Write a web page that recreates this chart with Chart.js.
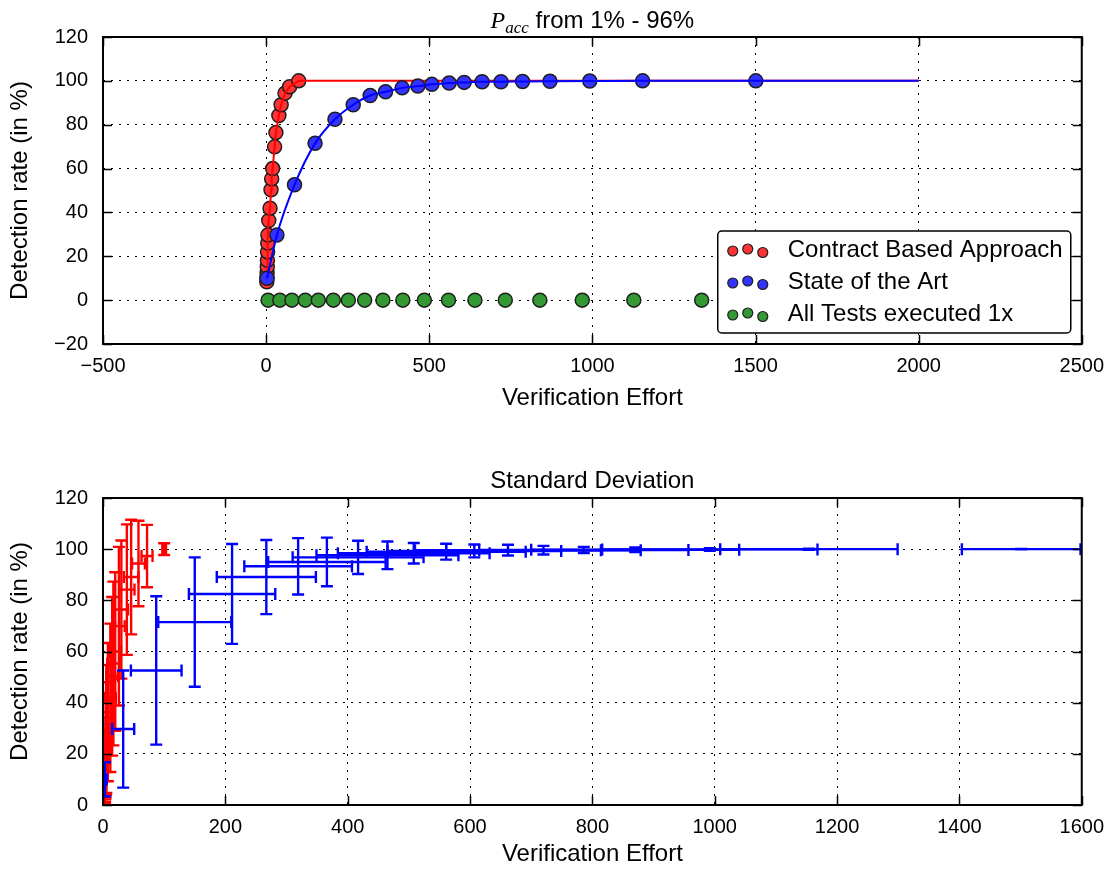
<!DOCTYPE html>
<html>
<head>
<meta charset="utf-8">
<title>Detection rate vs. verification effort</title>
<script src="https://cdn.jsdelivr.net/npm/chart.js@4.4.1/dist/chart.umd.min.js"></script>
<style>
  html, body { margin: 0; padding: 0; background: #fff; }
  #page { position: relative; width: 1114px; height: 869px; overflow: hidden; }
  #page canvas { position: absolute; left: 0; }
  #effortChart { top: 0; }
  #deviationChart { top: 430px; }
</style>
</head>
<body>
<div id="page">
  <canvas id="effortChart" width="1114" height="430"></canvas>
  <canvas id="deviationChart" width="1114" height="439"></canvas>
</div>
<script>
// ---- Contract based approach: mean effort / detection rate and their std. deviations
const contractX    = [2, 2.5, 3, 3.5, 4, 4.5, 5, 5.5, 8, 12, 15, 17, 20, 26, 30, 39, 46, 58, 72, 100];
const contractY    = [8.4, 10.5, 12.5, 15.2, 18.2, 22, 26, 29.7, 36.3, 41.9, 50.3, 55.3, 60, 69.9, 76.4, 84.2, 89.1, 94.4, 97.3, 100];
const contractXErr = [3, 3.5, 4, 4.5, 5, 5.5, 6, 6.5, 8, 9, 9.5, 10, 9.5, 9.5, 11, 12.5, 12, 10.5, 9, 3];
const contractYErr = [8, 10, 12, 14, 16, 19, 22, 25, 27, 29, 31, 32, 31, 31, 27, 25.5, 22.4, 16.7, 12.2, 2.3];

// ---- State of the art
const sotaX    = [3, 33, 87, 150, 211, 267, 319, 366, 417, 465, 508, 561, 607, 662, 720, 786, 870, 992, 1154, 1501];
const sotaY    = [10, 29.7, 52.6, 71.5, 82.5, 89.1, 93.3, 95, 96.8, 97.6, 98.4, 99, 99.3, 99.6, 99.6, 99.7, 99.8, 99.9, 100, 100];
const sotaXErr = [3, 18, 41.4, 59.7, 70.6, 81, 88, 96, 107, 116, 124, 130, 142, 152, 159, 171, 170, 176, 145, 97];
const sotaYErr = [6.7, 22.9, 29, 25.3, 19.5, 14.5, 11, 9.5, 6.5, 5.4, 4, 3.1, 2.5, 2.1, 1.7, 1.2, 0.9, 0.5, 0.2, 0.1];

// ---- All tests executed once (nothing detected)
const allTestsX = [6, 42, 79, 120, 160, 206, 252, 302, 358, 419, 485, 559, 640, 733, 839, 969, 1127, 1335];
const allTestsY = [0, 0, 0, 0, 0, 0, 0, 0, 0, 0, 0, 0, 0, 0, 0, 0, 0, 0];

// ---- Tail of both fitted curves
const fitTailX = 2000;
const fitTailY = 100;

// ---- Axis ticks
const effortTicks    = { min: -500, max: 2500, step: 500 };
const rateTicksTop   = { min: -20, max: 120, step: 20 };
const devEffortTicks = { min: 0, max: 1600, step: 200 };
const devRateTicks   = { min: 0, max: 120, step: 20 };

const SANS = "'Liberation Sans', Arial, Helvetica, sans-serif";
const SERIF = "'Liberation Serif', 'DejaVu Serif', serif";
const RED_FILL = '#ff3333', BLUE_FILL = '#3333ff', GREEN_FILL = '#339933', EDGE = '#1e1e1e';

const toPoints = (xs, ys) => xs.map((x, i) => ({ x, y: ys[i] }));
const minusFmt = v => (v < 0 ? '\u2212' + (-v) : String(v));

function axis(cfg, opts) {
  return {
    type: 'linear', min: cfg.min, max: cfg.max, z: 1,
    ticks: { stepSize: cfg.step, padding: opts.pad, color: '#000', autoSkip: false, maxRotation: 0,
             font: { family: SANS, size: 20 }, callback: minusFmt },
    grid: { color: '#000', lineWidth: 1, drawTicks: false },
    border: { display: false, dash: [2, 6] },
    title: { display: true, text: opts.title, color: '#000', font: { family: SANS, size: 24 }, padding: opts.titlePad },
    afterFit: opts.fit
  };
}

// inward tick marks on all four sides plus the axes frame
const frameTicks = {
  id: 'frameTicks',
  afterDraw(chart) {
    const { ctx, chartArea: a, scales: { x, y } } = chart;
    const len = 9;
    ctx.save();
    ctx.strokeStyle = '#000';
    ctx.lineWidth = 1.5;
    ctx.beginPath();
    x.ticks.forEach(t => {
      const px = Math.round(x.getPixelForValue(t.value)) + 0.5;
      ctx.moveTo(px, a.bottom); ctx.lineTo(px, a.bottom - len);
      ctx.moveTo(px, a.top); ctx.lineTo(px, a.top + len);
    });
    y.ticks.forEach(t => {
      const py = Math.round(y.getPixelForValue(t.value)) + 0.5;
      ctx.moveTo(a.left, py); ctx.lineTo(a.left + len, py);
      ctx.moveTo(a.right, py); ctx.lineTo(a.right - len, py);
    });
    ctx.stroke();
    ctx.lineWidth = 2;
    ctx.strokeRect(a.left, a.top, a.right - a.left, a.bottom - a.top);
    ctx.restore();
  }
};

// chart titles centred over the plotting area; pieces may switch font / baseline
const plotTitle = {
  id: 'plotTitle',
  afterDraw(chart, args, opts) {
    const { ctx, chartArea: a } = chart;
    const parts = opts.parts;
    ctx.save();
    ctx.fillStyle = '#000';
    ctx.textBaseline = 'alphabetic';
    let total = 0;
    parts.forEach(p => { ctx.font = p.font; total += ctx.measureText(p.text).width; });
    let x = (a.left + a.right) / 2 - total / 2;
    parts.forEach(p => {
      ctx.font = p.font;
      ctx.fillText(p.text, x, opts.baseline + (p.dy || 0));
      x += ctx.measureText(p.text).width;
    });
    ctx.restore();
  }
};

// legend box in the lower right with three scatter points per entry
const markerLegend = {
  id: 'markerLegend',
  afterDraw(chart, args, opts) {
    const { ctx, chartArea: a } = chart;
    const w = 353, h = 102;
    const right = a.right - 11, bottom = a.bottom - 11;
    const left = right - w, top = bottom - h;
    ctx.save();
    ctx.beginPath();
    ctx.roundRect(left, top, w, h, 4);
    ctx.fillStyle = '#fff';
    ctx.fill();
    ctx.lineWidth = 1.5;
    ctx.strokeStyle = '#000';
    ctx.stroke();
    const offsets = [1.5, -0.5, 3];
    opts.items.forEach((idx, row) => {
      const ds = chart.data.datasets[idx];
      const cy = top + 18.5 + row * 32;
      offsets.forEach((dy, k) => {
        ctx.beginPath();
        ctx.arc(left + 15 + k * 15, cy + dy, 5, 0, Math.PI * 2);
        ctx.fillStyle = ds.backgroundColor;
        ctx.fill();
        ctx.lineWidth = 1.2;
        ctx.strokeStyle = ds.borderColor;
        ctx.stroke();
      });
      ctx.fillStyle = '#000';
      ctx.font = '24px ' + SANS;
      ctx.textBaseline = 'middle';
      ctx.fillText(ds.label, left + 70, cy + 1);
    });
    ctx.restore();
  }
};

// horizontal and vertical error bars with caps
const errorBars = {
  id: 'errorBars',
  afterDatasetsDraw(chart) {
    const { ctx, chartArea: a, scales: { x, y } } = chart;
    const cap = 6;
    ctx.save();
    ctx.beginPath();
    ctx.rect(a.left, a.top, a.right - a.left, a.bottom - a.top);
    ctx.clip();
    chart.data.datasets.forEach(ds => {
      if (!ds.xErr) return;
      ctx.strokeStyle = ds.errColor;
      ctx.lineWidth = 2.4;
      ds.data.forEach((p, i) => {
        const cx = x.getPixelForValue(p.x), cy = y.getPixelForValue(p.y);
        const xl = x.getPixelForValue(p.x - ds.xErr[i]), xr = x.getPixelForValue(p.x + ds.xErr[i]);
        const yb = y.getPixelForValue(p.y - ds.yErr[i]), yt = y.getPixelForValue(p.y + ds.yErr[i]);
        ctx.beginPath();
        ctx.moveTo(xl, cy); ctx.lineTo(xr, cy);
        ctx.moveTo(xl, cy - cap); ctx.lineTo(xl, cy + cap);
        ctx.moveTo(xr, cy - cap); ctx.lineTo(xr, cy + cap);
        ctx.moveTo(cx, yb); ctx.lineTo(cx, yt);
        ctx.moveTo(cx - cap, yb); ctx.lineTo(cx + cap, yb);
        ctx.moveTo(cx - cap, yt); ctx.lineTo(cx + cap, yt);
        ctx.stroke();
      });
    });
    ctx.restore();
  }
};

const pointStyle = (fill) => ({ backgroundColor: fill, borderColor: EDGE, borderWidth: 1.5, pointRadius: 7, pointHoverRadius: 7 });

// ---------- upper plot: detection rate over verification effort
new Chart(document.getElementById('effortChart'), {
  type: 'scatter',
  data: {
    datasets: [
      Object.assign({ label: 'Contract Based Approach', data: toPoints(contractX, contractY), order: 4 }, pointStyle(RED_FILL)),
      Object.assign({ label: 'State of the Art', data: toPoints(sotaX, sotaY), order: 2 }, pointStyle(BLUE_FILL)),
      Object.assign({ label: 'All Tests executed 1x', data: toPoints(allTestsX, allTestsY), order: 5 }, pointStyle(GREEN_FILL)),
      { type: 'line', label: 'contract fit', data: toPoints(contractX.concat([fitTailX]), contractY.concat([fitTailY])),
        borderColor: '#ff0000', borderWidth: 2, pointRadius: 0, tension: 0, fill: false, order: 3 },
      { type: 'line', label: 'sota fit', data: toPoints(sotaX.concat([fitTailX]), sotaY.concat([fitTailY])),
        borderColor: '#0000ff', borderWidth: 2, pointRadius: 0, cubicInterpolationMode: 'monotone', fill: false, order: 1 }
    ]
  },
  options: {
    responsive: false, animation: false, events: [],
    layout: { padding: { top: 37, right: 25, left: 0, bottom: 0 } },
    plugins: {
      legend: { display: false }, tooltip: { enabled: false },
      plotTitle: { baseline: 28, parts: [
        { text: 'P', font: 'italic 24px ' + SERIF },
        { text: 'acc', font: 'italic 17px ' + SERIF, dy: 5 },
        { text: ' from 1% - 96%', font: '24px ' + SANS }
      ] },
      markerLegend: { items: [0, 1, 2] }
    },
    scales: {
      x: axis(effortTicks, { pad: 10, title: 'Verification Effort', titlePad: { top: 0, bottom: 17 }, fit: s => { s.height = 86; } }),
      y: axis(rateTicksTop, { pad: 15, title: 'Detection rate (in %)', titlePad: { top: 6, bottom: 0 }, fit: s => { s.width = 103; } })
    }
  },
  plugins: [frameTicks, plotTitle, markerLegend]
});

// ---------- lower plot: standard deviation of both quantities
new Chart(document.getElementById('deviationChart'), {
  type: 'scatter',
  data: {
    datasets: [
      { label: 'Contract Based Approach', data: toPoints(contractX, contractY), xErr: contractXErr, yErr: contractYErr,
        errColor: '#ff0000', pointRadius: 0 },
      { label: 'State of the Art', data: toPoints(sotaX, sotaY), xErr: sotaXErr, yErr: sotaYErr,
        errColor: '#0000ff', pointRadius: 0 }
    ]
  },
  options: {
    responsive: false, animation: false, events: [],
    layout: { padding: { top: 68, right: 25, left: 0, bottom: 0 } },
    plugins: {
      legend: { display: false }, tooltip: { enabled: false },
      plotTitle: { baseline: 58, parts: [{ text: 'Standard Deviation', font: '24px ' + SANS }] }
    },
    scales: {
      x: axis(devEffortTicks, { pad: 10, title: 'Verification Effort', titlePad: { top: 0, bottom: 0 }, fit: s => { s.height = 64; } }),
      y: axis(devRateTicks, { pad: 15, title: 'Detection rate (in %)', titlePad: { top: 6, bottom: 0 }, fit: s => { s.width = 103; } })
    }
  },
  plugins: [errorBars, frameTicks, plotTitle]
});
</script>
</body>
</html>
